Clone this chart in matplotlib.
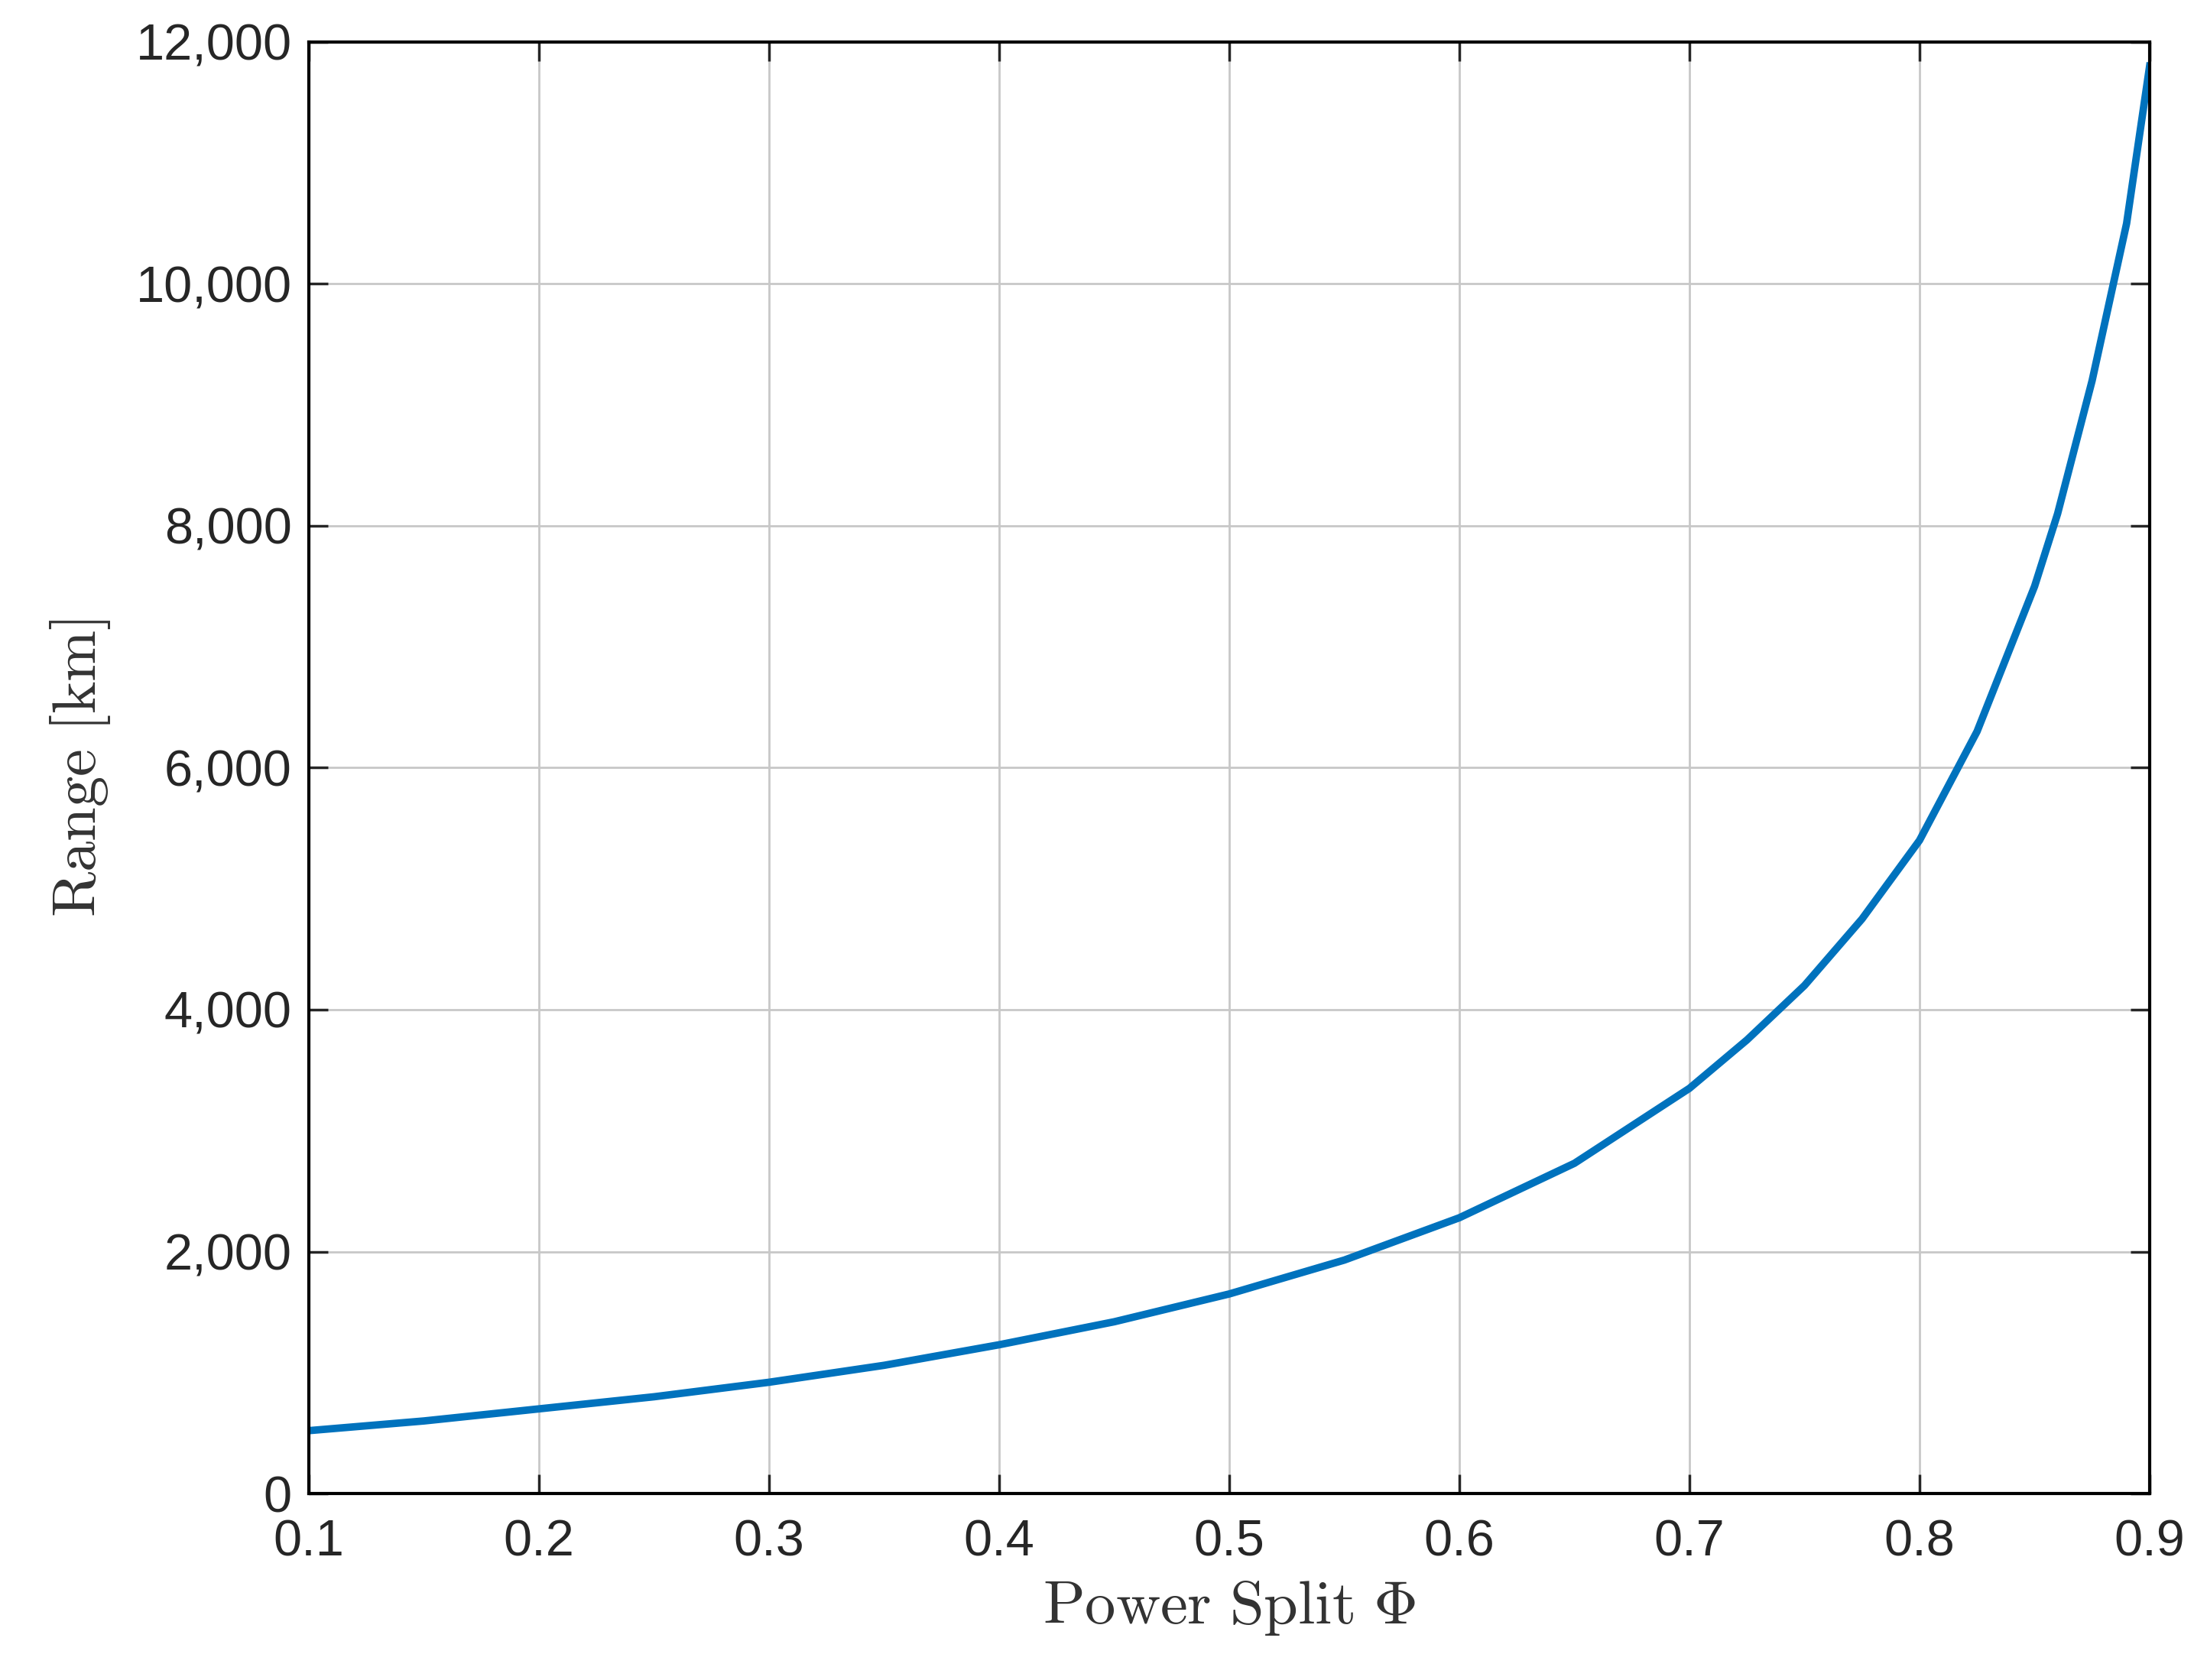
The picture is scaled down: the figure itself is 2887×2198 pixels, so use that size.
import matplotlib
matplotlib.use("Agg")
import matplotlib.pyplot as plt
from matplotlib.ticker import FuncFormatter

# values
phi = [0.1, 0.15, 0.2, 0.25, 0.3, 0.35, 0.4, 0.45, 0.5, 0.55, 0.6, 0.65, 0.7,
       0.725, 0.75, 0.775, 0.8, 0.825, 0.85, 0.86, 0.875, 0.89, 0.9]
range_km = [520, 600, 700, 800, 920, 1060, 1230, 1420, 1650, 1930, 2280, 2730, 3350,
            3750, 4200, 4750, 5400, 6300, 7500, 8100, 9200, 10500, 11800]
xticks = [0.1, 0.2, 0.3, 0.4, 0.5, 0.6, 0.7, 0.8, 0.9]
yticks = [0, 2000, 4000, 6000, 8000, 10000, 12000]

plt.rcParams['mathtext.fontset'] = 'cm'
plt.rcParams['font.family'] = ['Liberation Sans', 'DejaVu Sans']
fig = plt.figure(figsize=(28.87, 21.98), dpi=100)
ax = fig.add_axes([0.140, 0.111, 0.834, 0.864])
ax.plot(phi, range_km, color='#0072BD', lw=7)
ax.set_xlim(0.1, 0.9)
ax.set_ylim(0, 12000)
ax.set_xticks(xticks)
ax.set_yticks(yticks)
ax.xaxis.set_major_formatter(FuncFormatter(lambda v, p: f"{v:.1f}"))
ax.yaxis.set_major_formatter(FuncFormatter(lambda v, p: f"{int(v):,}"))
ax.grid(True, color='#c8c8c8', lw=2)
ax.tick_params(labelsize=48, length=18, width=2.5, direction='in', top=True, right=True,
               colors='#262626')
ax.tick_params(axis='x', pad=24)
ax.tick_params(axis='y', pad=16)
for s in ax.spines.values():
    s.set_linewidth(3)
ax.set_xlabel(r"$\mathrm{Power\ Split\ }\Phi$", fontsize=58, color='#333333', labelpad=12)
ax.set_ylabel(r"$\mathrm{Range\ [km]}$", fontsize=58, color='#333333', labelpad=22)
fig.savefig("out.png", dpi=100)
